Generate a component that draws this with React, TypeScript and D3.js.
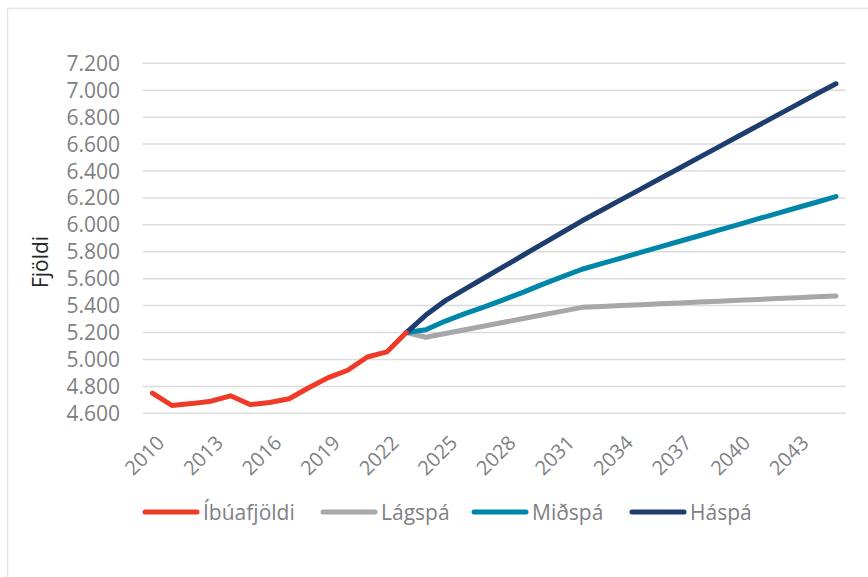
import React from "react";
import * as d3 from "d3";

const years: number[] = d3.range(2010, 2046);
const tickYears: number[] = [2010, 2013, 2016, 2019, 2022, 2025, 2028, 2031, 2034, 2037, 2040, 2043];
const yTicks: number[] = [4600, 4800, 5000, 5200, 5400, 5600, 5800, 6000, 6200, 6400, 6600, 6800, 7000, 7200];

const ibuafjoldiYears: number[] = [2010, 2011, 2012, 2013, 2014, 2015, 2016, 2017, 2018, 2019, 2020, 2021, 2022, 2023];
const ibuafjoldi: number[] = [4750, 4658, 4672, 4690, 4730, 4665, 4680, 4708, 4790, 4865, 4920, 5018, 5056, 5200];

const spaYears: number[] = [2023, 2024, 2025, 2026, 2027, 2028, 2029, 2030, 2031, 2032, 2033, 2034, 2035, 2036, 2037, 2038, 2039, 2040, 2041, 2042, 2043, 2044, 2045];
const lagspa: number[] = [5200, 5165, 5193, 5221, 5248, 5276, 5304, 5332, 5359, 5387, 5393, 5400, 5406, 5413, 5419, 5426, 5432, 5439, 5445, 5452, 5458, 5465, 5471];
const midspa: number[] = [5200, 5220, 5285, 5340, 5390, 5445, 5500, 5560, 5615, 5670, 5712, 5753, 5795, 5836, 5878, 5919, 5961, 6002, 6044, 6085, 6127, 6168, 6210];
const haspa: number[] = [5200, 5330, 5437, 5522, 5607, 5691, 5776, 5861, 5945, 6030, 6108, 6187, 6265, 6344, 6422, 6501, 6579, 6658, 6736, 6815, 6893, 6972, 7048];

const seriesNames: string[] = ["Íbúafjöldi", "Lágspá", "Miðspá", "Háspá"];
const seriesColors: string[] = ["#EE3A26", "#A7A7AA", "#0086A9", "#1D3D6E"];

const FONT = "'Open Sans', sans-serif";

export default function App() {
  const W = 868, H = 577;
  const left = 142.7, right = 845.7, top = 63.3, bottom = 413.3;

  const x = d3.scaleBand<number>().domain(years).range([left, right]).paddingInner(0).paddingOuter(0);
  const cx = (yr: number) => (x(yr) as number) + x.bandwidth() / 2;
  const y = d3.scaleLinear().domain([4600, 7200]).range([bottom, top]);

  const line = d3.line<[number, number]>().x(d => cx(d[0])).y(d => y(d[1]));

  const series: [number, number][][] = [
    ibuafjoldiYears.map((yr, i) => [yr, ibuafjoldi[i]]),
    spaYears.map((yr, i) => [yr, lagspa[i]]),
    spaYears.map((yr, i) => [yr, midspa[i]]),
    spaYears.map((yr, i) => [yr, haspa[i]]),
  ];

  const legendX = [145, 323, 474, 632];
  const legendY = 512;

  return (
    <svg width={W} height={H} style={{ position: "absolute", left: 0, top: 0, background: "#fff" }} fontFamily={FONT}>
      <rect x={7.5} y={8.5} width={W} height={H} fill="#fff" stroke="#e6e6e6" strokeWidth={1.5} />
      {yTicks.map(t => (
        <g key={t}>
          <line x1={left} x2={right} y1={y(t)} y2={y(t)} stroke="#dcdcdc" strokeWidth={1.5} />
          <text x={120} y={y(t)} dy="0.36em" textAnchor="end" fontSize={21} fill="#7f7f85">
            {d3.format(",")(t).replace(",", ".")}
          </text>
        </g>
      ))}
      {tickYears.map(t => (
        <text key={t} transform={`translate(${cx(t) + 3},${434}) rotate(-45)`} textAnchor="end" dy="0.72em" fontSize={20} fill="#7f7f85">
          {t}
        </text>
      ))}
      <text transform={`translate(40,262) rotate(-90)`} textAnchor="middle" dy="0.36em" fontSize={21} fill="#262626">Fjöldi</text>
      {[1, 2, 3, 0].map(i => (
        <path key={i} d={line(series[i]) as string} fill="none" stroke={seriesColors[i]} strokeWidth={5} strokeLinejoin="round" strokeLinecap="round" />
      ))}
      {seriesNames.map((n, i) => (
        <g key={n}>
          <line x1={legendX[i]} x2={legendX[i] + 52} y1={legendY} y2={legendY} stroke={seriesColors[i]} strokeWidth={5} strokeLinecap="round" />
          <text x={legendX[i] + 58} y={legendY} dy="0.36em" fontSize={21} fill="#7f7f85">{n}</text>
        </g>
      ))}
    </svg>
  );
}
